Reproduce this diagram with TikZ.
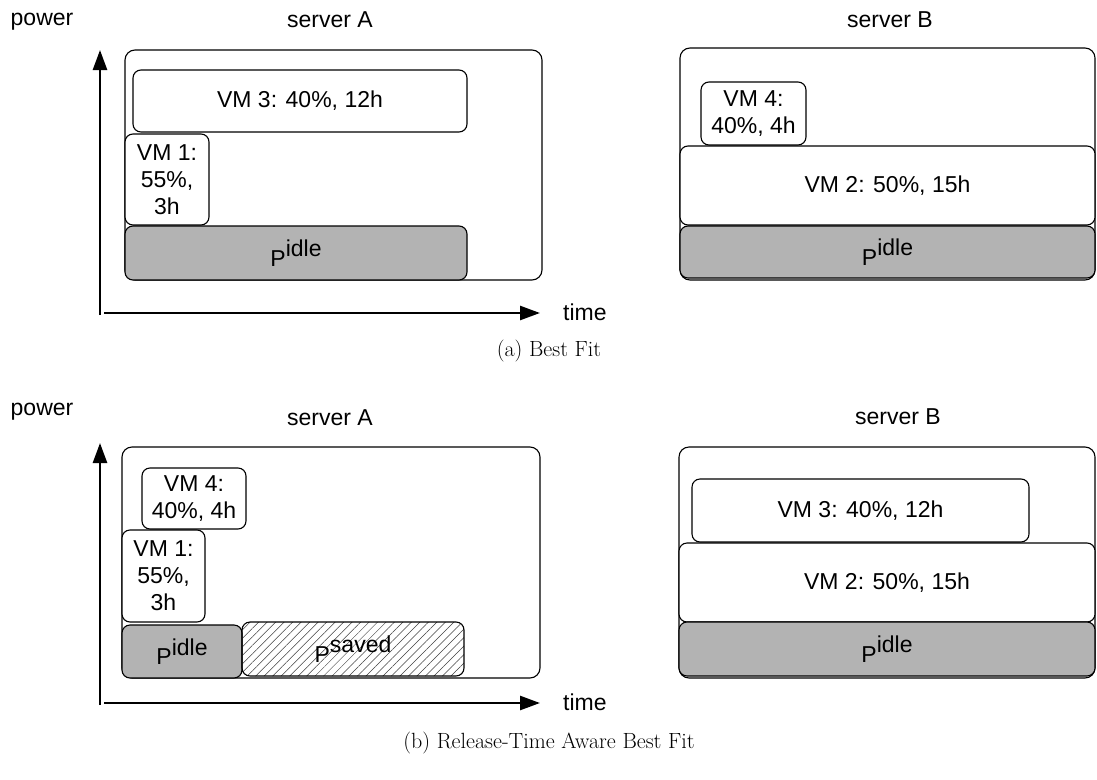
\documentclass[tikz,border=0pt]{standalone}
\usepackage{fontspec}
\setsansfont{Liberation Sans}
\usepackage{tikz}
\usetikzlibrary{arrows.meta,patterns.meta}
\definecolor{idlegray}{HTML}{B3B3B3}
\definecolor{hatchgray}{HTML}{404040}
\newcommand{\pidle}{P\raisebox{0.42em}{idle}}
\newcommand{\psaved}{P\raisebox{0.42em}{saved}}

\begin{document}
\begin{tikzpicture}[
    x=1pt, y=-1pt,
    lbl/.style={font=\sffamily\fontsize{23}{27}\selectfont, inner sep=0pt},
    serverbox/.style={draw, line width=1.1pt, rounded corners=10pt, inner sep=0pt},
    vmbox/.style={draw, line width=1.1pt, rounded corners=8pt, fill=white, inner sep=0pt,
      font=\sffamily\fontsize{23}{27}\selectfont, align=center,
      minimum width=#1},
    idlebox/.style={vmbox=#1, fill=idlegray},
    savedbox/.style={vmbox=#1, fill=white,
      pattern={Lines[angle=45,distance=6pt,line width=0.5pt]}, pattern color=hatchgray},
    axis/.style={-{Triangle[length=20pt,width=14pt]}, line width=2.6pt},
    capt/.style={font=\fontsize{22}{26}\selectfont, inner sep=0pt},
  ]
  \useasboundingbox (0,0) rectangle (1097,779);

  % =================== (a) Best Fit ===================
  \node[lbl] (powerA) at (42,22) {power};
  \node[lbl] (titleAa) at (330,20) {server A};
  \node[lbl] (titleBa) at (890,20) {server B};

  % axes
  \coordinate (originA) at (100,315);
  \coordinate (ytopA) at (100,50);
  \coordinate (xstartA) at (104,313);
  \coordinate (xendA) at (540,313);
  \draw[axis] (originA) -- (ytopA);
  \draw[axis] (xstartA) -- (xendA);
  \node[lbl, anchor=west] (timeA) at (563,312) {time};

  % server A
  \node[serverbox, minimum width=417pt, minimum height=230pt] (srvAa) at (333.5,165) {};
  \node[vmbox=334pt, minimum height=62pt] (vmThreeA) at (300,101) {VM 3: 40\%, 12h};
  \node[vmbox=84pt, minimum height=91pt] (vmOneA) at (167,179.5) {VM 1:\\55\%,\\3h};
  \node[idlebox=342pt, minimum height=54pt] (idleA) at (296,253) {\pidle};

  % server B
  \node[serverbox, minimum width=415pt, minimum height=232pt] (srvBa) at (887.5,164) {};
  \node[vmbox=105pt, minimum height=63pt] (vmFourB) at (753.5,113.5) {VM 4:\\40\%, 4h};
  \node[vmbox=415pt, minimum height=79pt] (vmTwoB) at (887.5,185.5) {VM 2: 50\%, 15h};
  \node[idlebox=415pt, minimum height=52pt] (idleB) at (887.5,252) {\pidle};

  \node[capt] (captA) at (549,351) {(a) Best Fit};

  % =================== (b) Release-Time Aware Best Fit ===================
  \node[lbl] (powerB) at (42,412) {power};
  \node[lbl] (titleAb) at (330,418) {server A};
  \node[lbl] (titleBb) at (898,417) {server B};

  % axes
  \coordinate (originB) at (100,705);
  \coordinate (ytopB) at (100,443);
  \coordinate (xstartB) at (104,703);
  \coordinate (xendB) at (540,703);
  \draw[axis] (originB) -- (ytopB);
  \draw[axis] (xstartB) -- (xendB);
  \node[lbl, anchor=west] (timeB) at (563,702) {time};

  % server A
  \node[serverbox, minimum width=418pt, minimum height=231pt] (srvAb) at (331,562.5) {};
  \node[vmbox=104pt, minimum height=61pt] (vmFourA) at (194,498.5) {VM 4:\\40\%, 4h};
  \node[vmbox=83pt, minimum height=92pt] (vmOneAb) at (163.5,576) {VM 1:\\55\%,\\3h};
  \node[idlebox=120pt, minimum height=53pt] (idleAb) at (182,651.5) {\pidle};
  \node[savedbox=222pt, minimum height=54pt] (savedA) at (353,649) {\psaved};

  % server B
  \node[serverbox, minimum width=416pt, minimum height=231pt] (srvBb) at (887,562.5) {};
  \node[vmbox=337pt, minimum height=63pt] (vmThreeB) at (860.5,510.5) {VM 3: 40\%, 12h};
  \node[vmbox=416pt, minimum height=79pt] (vmTwoBb) at (887,582.5) {VM 2: 50\%, 15h};
  \node[idlebox=416pt, minimum height=54pt] (idleBb) at (887,649) {\pidle};

  \node[capt] (captB) at (549,743) {(b) Release-Time Aware Best Fit};

\end{tikzpicture}
\end{document}
